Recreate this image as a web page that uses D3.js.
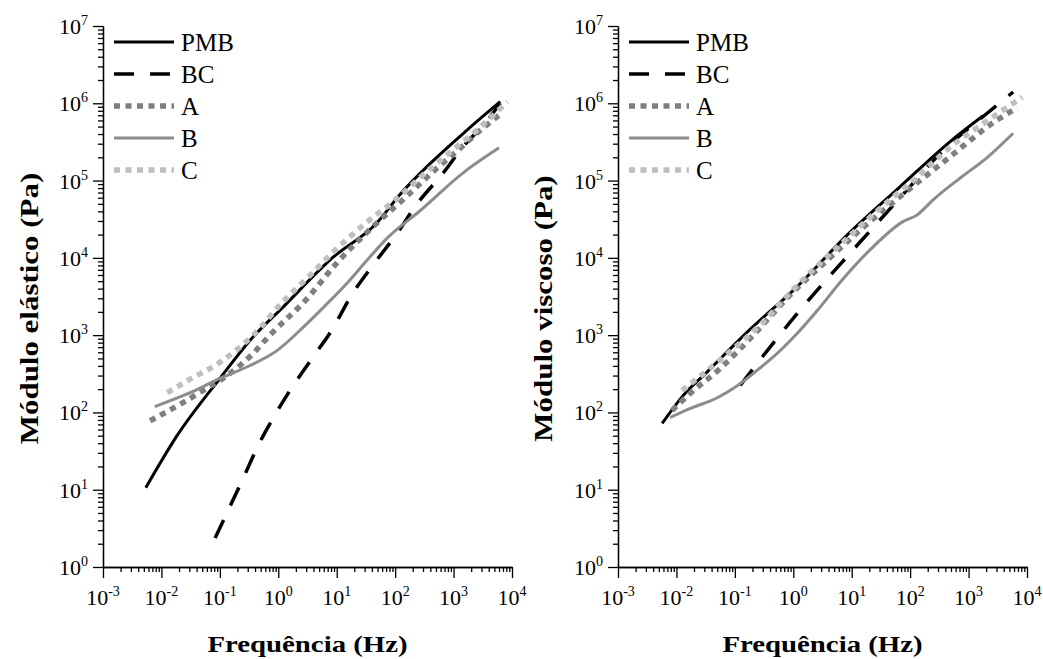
<!DOCTYPE html>
<html lang="pt">
<head>
<meta charset="utf-8">
<title>Módulo elástico e viscoso</title>
<script src="https://cdn.jsdelivr.net/npm/d3@7"></script>
<style>
  body { margin: 0; background: #fff; }
  svg text { font-family: "Liberation Serif", "Times New Roman", Times, serif; fill: #000; }
  .domain, .tick line { stroke: #000; stroke-width: 1.3; }
</style>
</head>
<body>
<script>

// [frequencia (Hz), modulo (Pa)]
var elasticoPMB = [[0.0054,10.6],[0.0185,50],[0.1,275],[0.33,860],[1.2,2300],[8.7,10200],[48,28000],[121,66000],[445,180000],[1700,450000],[6300,1050000]];
var elasticoBC  = [[0.083,2.37],[0.127,4.7],[0.25,14],[0.45,37],[0.88,93],[1.52,183],[3.6,475],[8.3,1170],[17.5,3200],[43,8300],[112,21600],[228,48000],[685,129000],[1390,263000],[3500,560000],[6300,1000000]];
var elasticoA   = [[0.0064,78],[0.0234,134],[0.051,192],[0.133,300],[0.37,580],[0.72,1000],[2.9,2800],[10.2,8700],[41,25000],[166,65000],[520,145000],[1070,230000],[3200,480000],[6800,750000]];
var elasticoB   = [[0.0077,119],[0.031,180],[0.1,275],[0.33,405],[0.95,630],[2.66,1260],[5.9,2280],[15,4700],[33,9300],[73,18000],[270,41000],[1440,125000],[6000,265000]];
var elasticoC   = [[0.0126,180],[0.0285,260],[0.105,455],[0.37,1000],[1.2,2700],[3.5,5950],[10.2,13300],[33,29000],[100,56000],[325,125000],[980,250000],[2900,495000],[8300,1050000]];

var viscosoPMB = [[0.0057,72],[0.013,165],[0.033,330],[0.18,1180],[1,3800],[9.4,21500],[67,83000],[484,320000],[1780,690000]];
var viscosoBC  = [[0.123,223],[1.3,2100],[9.4,11500],[62,56000],[400,260000],[1800,680000],[5800,1400000]];
var viscosoA   = [[0.0084,106],[0.017,175],[0.056,370],[0.22,1050],[0.81,3100],[3.5,8800],[15,24000],[62,59000],[450,195000],[3100,610000],[6800,870000]];
var viscosoB   = [[0.0078,86],[0.017,112],[0.05,155],[0.11,222],[0.24,350],[0.53,580],[1.16,1050],[2.6,2100],[6.3,4800],[23,13800],[73,29000],[132,36000],[245,56000],[720,108000],[2100,200000],[5800,410000]];
var viscosoC   = [[0.0125,192],[0.063,515],[0.30,1460],[1,3900],[7.1,16000],[51,61000],[107,96000],[484,270000],[2500,650000],[8300,1200000]];

var seriesNames = ["PMB", "BC", "A", "B", "C"];
var xExponents = [-3, -2, -1, 0, 1, 2, 3, 4];
var yExponents = [0, 1, 2, 3, 4, 5, 6, 7];

var w = 1043, h = 659;
var plotTop = 26, plotBottom = 567, plotW = 409;

// estilo de cada serie
var styles = {
  PMB: { color: "#000", width: 3,   dash: null },
  BC:  { color: "#000", width: 3.5, dash: "20,16" },
  A:   { color: "#7f7f7f", width: 5.5, dash: "6,5.5" },
  B:   { color: "#8c8c8c", width: 3,   dash: null },
  C:   { color: "#bfbfbf", width: 5.5, dash: "6,5.5" }
};

var svg = d3.select("body").append("svg")
  .attr("width", w)
  .attr("height", h)
  .attr("font-family", "'Liberation Serif', 'Times New Roman', Times, serif");

function minorValues(exps) {
  var out = [];
  for (var i = 0; i < exps.length - 1; i++) {
    for (var m = 2; m < 10; m++) out.push(m * Math.pow(10, exps[i]));
  }
  return out;
}

function powerLabel(sel, e) {
  sel.append("tspan").text("10");
  sel.append("tspan").attr("dy", -9).attr("font-size", 14).text(e);
}

function drawPanel(x0, data, yTitle, yTitleX) {
  var x = d3.scaleLog().domain([1e-3, 1e4]).range([x0, x0 + plotW]);
  var y = d3.scaleLog().domain([1, 1e7]).range([plotBottom, plotTop]);
  var g = svg.append("g");

  var xMajor = xExponents.map(function(e) { return Math.pow(10, e); });
  var yMajor = yExponents.map(function(e) { return Math.pow(10, e); });

  // eixos: marcas menores e maiores para fora
  g.append("g").attr("transform", "translate(0," + plotBottom + ")")
    .call(d3.axisBottom(x).tickValues(minorValues(xExponents)).tickSize(5).tickSizeOuter(0).tickFormat(""));
  g.append("g").attr("transform", "translate(0," + plotBottom + ")")
    .call(d3.axisBottom(x).tickValues(xMajor).tickSize(11).tickSizeOuter(0).tickFormat(""));
  g.append("g").attr("transform", "translate(" + x0 + ",0)")
    .call(d3.axisLeft(y).tickValues(minorValues(yExponents)).tickSize(5).tickSizeOuter(0).tickFormat(""));
  g.append("g").attr("transform", "translate(" + x0 + ",0)")
    .call(d3.axisLeft(y).tickValues(yMajor).tickSize(10).tickSizeOuter(0).tickFormat(""));

  // rotulos 10^n
  xExponents.forEach(function(e) {
    var t = g.append("text")
      .attr("x", x(Math.pow(10, e)))
      .attr("y", plotBottom + 38)
      .attr("text-anchor", "middle")
      .attr("font-size", 22);
    powerLabel(t, e);
  });
  yExponents.forEach(function(e) {
    var t = g.append("text")
      .attr("x", x0 - 15)
      .attr("y", y(Math.pow(10, e)) + 8)
      .attr("text-anchor", "end")
      .attr("font-size", 22);
    powerLabel(t, e);
  });

  // curvas
  var line = d3.line()
    .x(function(d) { return x(d[0]); })
    .y(function(d) { return y(d[1]); })
    .curve(d3.curveMonotoneX);

  seriesNames.forEach(function(name, i) {
    var s = styles[name];
    g.append("path")
      .datum(data[i])
      .attr("d", line)
      .attr("fill", "none")
      .attr("stroke", s.color)
      .attr("stroke-width", s.width)
      .attr("stroke-dasharray", s.dash);
  });

  // legenda
  seriesNames.forEach(function(name, i) {
    var s = styles[name];
    var ly = 42 + i * 32;
    g.append("line")
      .attr("x1", x0 + 11).attr("x2", x0 + 71)
      .attr("y1", ly).attr("y2", ly)
      .attr("stroke", s.color)
      .attr("stroke-width", s.width)
      .attr("stroke-dasharray", s.dash);
    g.append("text")
      .attr("x", x0 + 78)
      .attr("y", ly + 9)
      .attr("font-size", 25)
      .text(name);
  });

  // titulos dos eixos
  g.append("text")
    .attr("transform", "translate(" + (x0 + plotW / 2) + ",652) scale(1.2,1)")
    .attr("text-anchor", "middle")
    .attr("font-size", 24)
    .attr("font-weight", "bold")
    .text("Frequência (Hz)");

  g.append("text")
    .attr("transform", "translate(" + yTitleX + "," + ((plotTop + plotBottom) / 2 + 12) + ") rotate(-90) scale(1.19,1)")
    .attr("text-anchor", "middle")
    .attr("font-size", 26)
    .attr("font-weight", "bold")
    .text(yTitle);
}

drawPanel(103, [elasticoPMB, elasticoBC, elasticoA, elasticoB, elasticoC], "Módulo elástico (Pa)", 38);
drawPanel(618, [viscosoPMB, viscosoBC, viscosoA, viscosoB, viscosoC], "Módulo viscoso (Pa)", 552);

</script>
</body>
</html>
